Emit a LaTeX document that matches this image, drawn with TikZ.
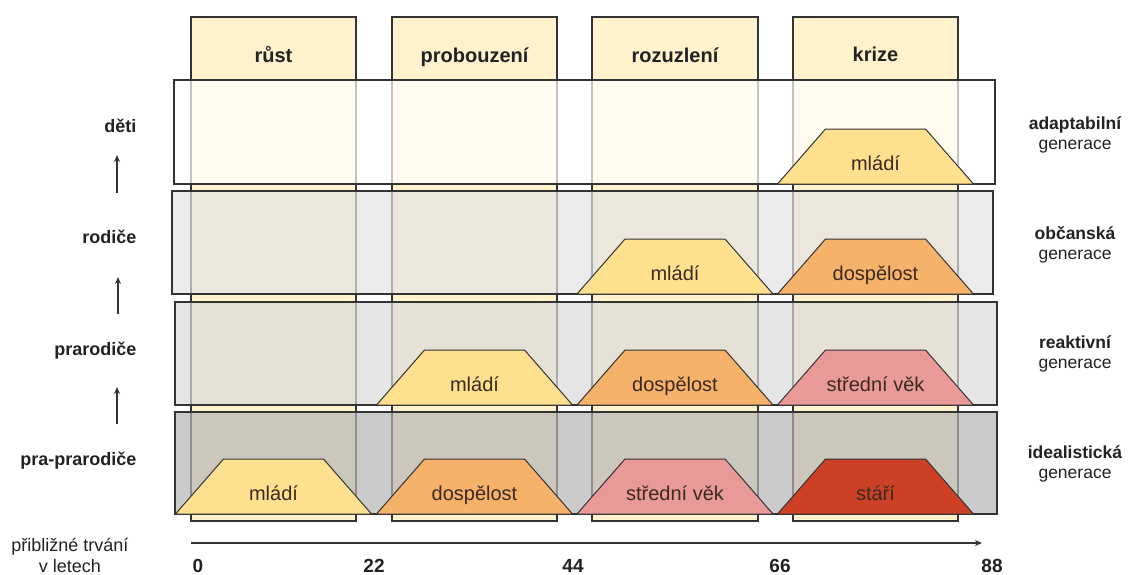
\documentclass[tikz,border=0pt]{standalone}
\usepackage{fontspec}
\setmainfont{Liberation Sans}
\usetikzlibrary{arrows.meta}
\definecolor{colfill}{HTML}{FFF2CC}
\definecolor{linec}{HTML}{333333}
\definecolor{txtc}{HTML}{222222}
\definecolor{trapt}{HTML}{3A2A20}
\definecolor{cmladi}{HTML}{FFE08F}
\definecolor{cdosp}{HTML}{F6B26B}
\definecolor{cstred}{HTML}{EA9999}
\definecolor{cstari}{HTML}{CC4125}
\definecolor{rowA}{HTML}{FFFFFF}
\definecolor{rowB}{HTML}{E3E3E3}
\definecolor{rowC}{HTML}{DBDBDB}
\definecolor{rowD}{HTML}{B6B6B6}
\newcommand{\gentrap}[5]{%
  \filldraw[trapz,fill=#3] ({#1-98},{#2}) -- ({#1-50},{#2-55}) -- ({#1+50},{#2-55}) -- ({#1+98},{#2}) -- cycle;
  \node[traplbl] (#4) at ({#1},{#2-14}) {#5};}
\begin{document}
\begin{tikzpicture}[x=1pt,y=-1pt,
  colbox/.style={fill=colfill,draw=linec,line width=1.3pt},
  rowbox/.style={fill opacity=0.7,draw=linec,line width=1.3pt},
  trapz/.style={draw=linec,line width=1pt,line join=round},
  traplbl/.style={anchor=base,text=trapt,font=\fontsize{20}{24}\selectfont},
  hdr/.style={anchor=base,text=txtc,font=\bfseries\fontsize{20}{24}\selectfont},
  leftlbl/.style={anchor=base east,text=txtc,font=\bfseries\fontsize{18}{22}\selectfont},
  rbold/.style={anchor=base,text=txtc,font=\bfseries\fontsize{17.5}{20}\selectfont},
  rreg/.style={anchor=base,text=txtc,font=\fontsize{17.5}{20}\selectfont},
  num/.style={anchor=base,text=txtc,font=\bfseries\fontsize{19}{22}\selectfont},
  uparrow/.style={draw=linec,line width=1.3pt,-{Stealth[length=7pt,width=6pt]}}]
\useasboundingbox (0,0) rectangle (1133,574);
\fill[white] (0,0) rectangle (1133,574);
% columns
\draw[colbox] (191,17) rectangle (356,521);
\draw[colbox] (392,17) rectangle (557,521);
\draw[colbox] (592,17) rectangle (758,521);
\draw[colbox] (793,17) rectangle (958,521);
\node[hdr] (h1) at (273.5,62) {růst};
\node[hdr] (h2) at (474.5,62) {probouzení};
\node[hdr] (h3) at (675,62) {rozuzlení};
\node[hdr] (h4) at (875.5,61) {krize};
% rows
\draw[rowbox,fill=rowA] (174,80) rectangle (995,184);
\draw[rowbox,fill=rowB] (172,191) rectangle (993,294);
\draw[rowbox,fill=rowC] (175,302) rectangle (997,405);
\draw[rowbox,fill=rowD] (175,412) rectangle (997,514);
% trapezoids
\gentrap{875.5}{184}{cmladi}{t14}{mládí}
\gentrap{675}{294}{cmladi}{t23}{mládí}
\gentrap{875.5}{294}{cdosp}{t24}{dospělost}
\gentrap{474.5}{405}{cmladi}{t32}{mládí}
\gentrap{675}{405}{cdosp}{t33}{dospělost}
\gentrap{875.5}{405}{cstred}{t34}{střední věk}
\gentrap{273.5}{514}{cmladi}{t41}{mládí}
\gentrap{474.5}{514}{cdosp}{t42}{dospělost}
\gentrap{675}{514}{cstred}{t43}{střední věk}
\gentrap{875.5}{514}{cstari}{t44}{stáří}
% left labels
\node[leftlbl] (l1) at (140,132) {děti};
\node[leftlbl] (l2) at (140,243) {rodiče};
\node[leftlbl] (l3) at (140,355) {prarodiče};
\node[leftlbl] (l4) at (140,465) {pra-prarodiče};
\coordinate (a1s) at (117,193); \coordinate (a1e) at (117,155);
\coordinate (a2s) at (118,314); \coordinate (a2e) at (118,277);
\coordinate (a3s) at (117,424); \coordinate (a3e) at (117,387);
\draw[uparrow] (a1s) -- (a1e);
\draw[uparrow] (a2s) -- (a2e);
\draw[uparrow] (a3s) -- (a3e);
% right labels
\node[rbold] (g1) at (1075,129) {adaptabilní};
\node[rreg] (g1b) at (1075,149) {generace};
\node[rbold] (g2) at (1075,239) {občanská};
\node[rreg] (g2b) at (1075,259) {generace};
\node[rbold] (g3) at (1075,348) {reaktivní};
\node[rreg] (g3b) at (1075,368) {generace};
\node[rbold] (g4) at (1075,458) {idealistická};
\node[rreg] (g4b) at (1075,478) {generace};
% axis
\coordinate (ax0) at (191,543);
\coordinate (ax1) at (982,543);
\draw[draw=linec,line width=1.2pt,-{Stealth[length=7pt,width=6pt]}] (ax0) -- (ax1);
\node[num] (n0) at (198,572) {0};
\node[num] (n1) at (374,572) {22};
\node[num] (n2) at (573,572) {44};
\node[num] (n3) at (780,572) {66};
\node[num] (n4) at (992,572) {88};
\node[anchor=base,text=txtc,font=\fontsize{18}{22}\selectfont] (d1) at (70,551) {přibližné trvání};
\node[anchor=base,text=txtc,font=\fontsize{18}{22}\selectfont] (d2) at (70,572) {v letech};
\end{tikzpicture}
\end{document}
